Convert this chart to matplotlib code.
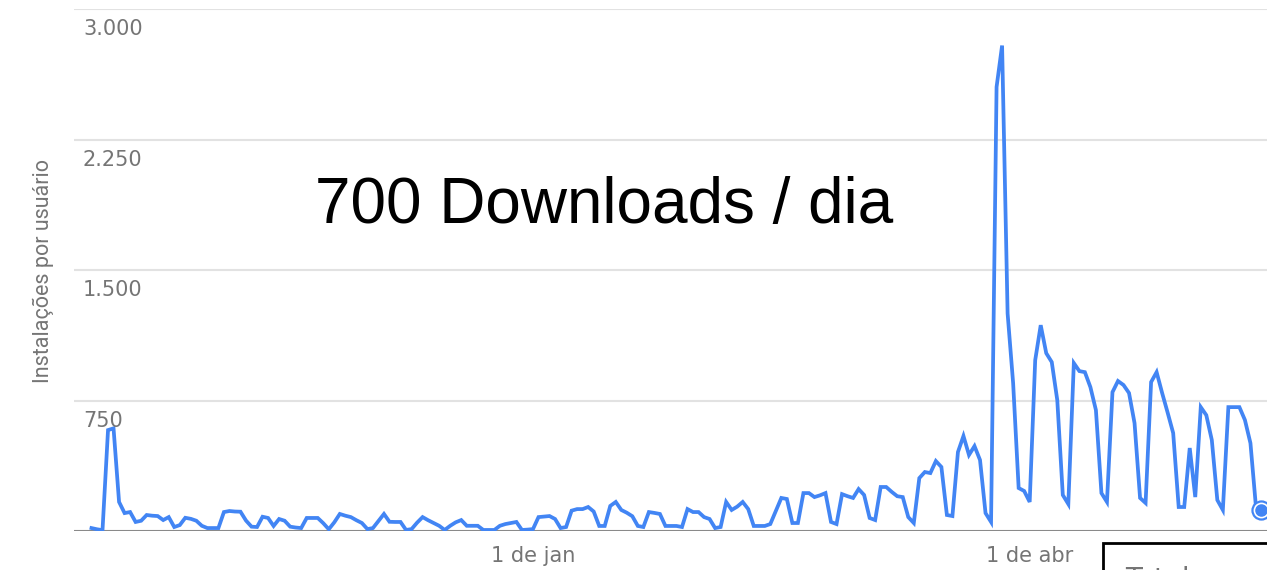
import matplotlib

matplotlib.use("Agg")
import matplotlib.pyplot as plt  # noqa: E402
import numpy as np  # noqa: E402
import pandas as pd  # noqa: E402

# daily installs (first day 13 Oct 2016)
start_date = "2016-10-13"
installs = [
    17, 10, 5, 580, 590, 167, 103, 109, 52, 59,          # -80 .. -71
    92, 88, 86, 63, 80, 23, 34, 76, 70, 59,              # -70 .. -61
    30, 17, 17, 17, 109, 115, 112, 111, 60, 25,          # -60 .. -51
    23, 82, 75, 29, 69, 59, 25, 20, 17, 75,              # -50 .. -41
    75, 75, 45, 10, 50, 98, 88, 80, 62, 46,              # -40 .. -31
    11, 17, 58, 98, 53, 52, 52, 6, 11, 48,               # -30 .. -21
    80, 62, 46, 30, 6, 30, 50, 63, 30, 30,               # -20 .. -11
    30, 6, 6, 6, 30, 40, 46, 52, 6, 8,                   # -10 .. -1
    11, 80, 83, 86, 69, 17, 23, 117, 126, 126,           # 0 .. 9
    138, 112, 29, 29, 144, 167, 121, 105, 85, 29,        # 10 .. 19
    23, 109, 104, 98, 29, 29, 29, 23, 126, 109,          # 20 .. 29
    109, 80, 69, 17, 23, 167, 121, 140, 167, 126,        # 30 .. 39
    29, 29, 29, 40, 115, 190, 184, 46, 46, 218,          # 40 .. 49
    218, 195, 205, 218, 52, 40, 212, 200, 190, 241,      # 50 .. 59
    207, 75, 63, 253, 253, 225, 200, 195, 80, 46,        # 60 .. 69
    304, 339, 333, 402, 368, 92, 86, 454, 546, 437,      # 70 .. 79
    488, 408, 103, 52, 2552, 2790, 1250, 850, 247, 230,  # 80 .. 89
    167, 982, 1183, 1022, 971, 752, 207, 155, 965, 919,  # 90 .. 99
    913, 827, 695, 218, 167, 798, 862, 839, 793, 620,    # 100 .. 109
    190, 161, 856, 913, 793, 680, 563, 138, 138, 477,    # 110 .. 119
    195, 712, 666, 523, 178, 121, 712, 712, 712, 638,    # 120 .. 129
    505, 138, 121,                                       # 130 .. 132
]
y_ticks = [750, 1500, 2250, 3000]
y_tick_labels = ["750", "1.500", "2.250", "3.000"]
x_ticks = ["2017-01-01", "2017-04-01"]
x_tick_labels = ["1 de jan", "1 de abr"]

BLUE = "#4285f4"
GREY = "#757575"

dates = pd.date_range(start_date, periods=len(installs), freq="D")

fig = plt.figure(figsize=(12.67, 5.70), dpi=100)
ax = fig.add_axes([0.0584, 0.0684, 0.9416, 0.9158])

ax.plot(dates, installs, color=BLUE, lw=2.7, solid_joinstyle="miter", zorder=3)
# highlighted last point
ax.plot(dates[-1:], installs[-1:], "o", ms=13, mfc="white", mec=BLUE, mew=1.6, zorder=4, clip_on=False)
ax.plot(dates[-1:], installs[-1:], "o", ms=8, color=BLUE, zorder=5, clip_on=False)

ax.set_ylim(0, 3000)
ax.set_xlim(pd.Timestamp("2016-10-09 20:00"), pd.Timestamp("2017-05-14"))

for sp in ax.spines.values():
    sp.set_visible(False)
ax.axhline(0, color="#8a8a8a", lw=1.5, zorder=2)
for v in y_ticks:
    ax.axhline(v, color="#e2e2e2", lw=1.5, zorder=1)

ax.set_yticks([])
for v, lab in zip(y_ticks, y_tick_labels):
    ax.annotate(lab, xy=(0, v), xycoords=("axes fraction", "data"),
                xytext=(9, -10), textcoords="offset pixels",
                ha="left", va="top", fontsize=15, color=GREY)

ax.set_xticks(pd.to_datetime(x_ticks))
ax.set_xticklabels(x_tick_labels, fontsize=15, color=GREY)
ax.tick_params(axis="x", length=0, pad=11)

fig.text(0.034, 0.524, "Instalações por usuário", rotation=90, ha="center", va="center",
         fontsize=15.5, color=GREY, family="Roboto")

fig.text(0.4765, 0.638, "700 Downloads / dia", ha="center", va="center",
         fontsize=46, color="black", family="Liberation Sans")

# cut-off box at the bottom right of the screenshot
fig.patches.append(plt.Rectangle((1103 / 1267, -0.05), 0.2, 0.05 + 27 / 570,
                                 transform=fig.transFigure, fill=False,
                                 edgecolor="black", lw=2))
fig.text(1125 / 1267, 4 / 570, "Total", ha="left", va="top", fontsize=20, color=GREY)

fig.savefig("out.png", dpi=100)
